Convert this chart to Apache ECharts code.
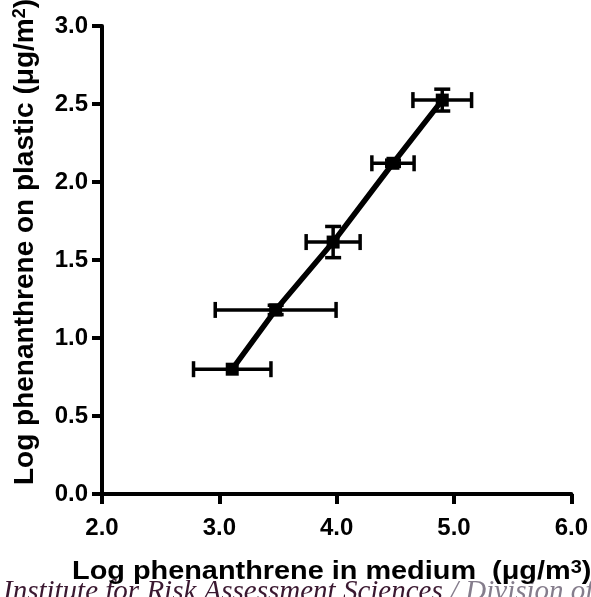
<!DOCTYPE html>
<html>
<head>
<meta charset="utf-8">
<script src="https://cdn.jsdelivr.net/npm/echarts@6/dist/echarts.min.js"></script>
<style>html,body{margin:0;padding:0;background:#fff;}#c{width:591px;height:597px;}</style>
</head>
<body>
<div id="c"></div>
<script>
// Data
var xVals = [3.11, 3.48, 3.97, 4.48, 4.90];
var yVals = [0.80, 1.18, 1.615, 2.12, 2.525];
var xErr  = [0.33, 0.515, 0.23, 0.18, 0.25];
var yErr  = [0.00, 0.03, 0.10, 0.02, 0.07];
var xTicks = [2.0, 3.0, 4.0, 5.0, 6.0];
var yTicks = [0.0, 0.5, 1.0, 1.5, 2.0, 2.5, 3.0];

var points = xVals.map(function (x, i) { return [x, yVals[i]]; });
var errData = xVals.map(function (x, i) { return [x, yVals[i], xErr[i], yErr[i]]; });

var chart = echarts.init(document.getElementById('c'), null, {renderer: 'canvas'});
var font = 'Liberation Sans, Arial, sans-serif';
var serif = 'Liberation Serif, serif';
var option = {
  animation: false,
  backgroundColor: '#fff',
  grid: {left: 102, right: 19, top: 26, bottom: 103, containLabel: false},
  xAxis: {
    type: 'value', min: xTicks[0], max: xTicks[xTicks.length - 1], interval: 1,
    axisLine: {show: true, lineStyle: {color: '#000', width: 4}},
    axisTick: {show: true, length: 10, lineStyle: {color: '#000', width: 4}},
    splitLine: {show: false},
    axisLabel: {margin: 22, color: '#000', fontFamily: font, fontWeight: 'bold', fontSize: 24,
      formatter: function (v) { return v.toFixed(1); }}
  },
  yAxis: {
    type: 'value', min: yTicks[0], max: yTicks[yTicks.length - 1], interval: 0.5,
    axisLine: {show: true, lineStyle: {color: '#000', width: 4}},
    axisTick: {show: true, length: 10, lineStyle: {color: '#000', width: 4}},
    splitLine: {show: false},
    axisLabel: {margin: 14, color: '#000', fontFamily: font, fontWeight: 'bold', fontSize: 24,
      formatter: function (v) { return v.toFixed(1); }}
  },
  graphic: [
    {type: 'text', x: 3, y: 607, z: 5,
      style: {text: '{a|Institute for Risk Assessment Sciences }{b|/ Division of}', textVerticalAlign: 'bottom',
        rich: {a: {fontFamily: serif, fontStyle: 'italic', fontSize: 29, fill: '#3a1830', color: '#3a1830'},
               b: {fontFamily: serif, fontStyle: 'italic', fontSize: 29, fill: '#857d8c', color: '#857d8c'}}}},
    {type: 'text', x: 72, y: 585, z: 10, scaleX: 1.11,
      style: {text: '{m|Log phenanthrene in medium  (μg/m}{s|3}{m|)}', textVerticalAlign: 'bottom',
        rich: {m: {fontFamily: font, fontWeight: 'bold', fontSize: 26, fill: '#000', color: '#000', lineHeight: 26, verticalAlign: 'bottom'},
               s: {fontFamily: font, fontWeight: 'bold', fontSize: 18, fill: '#000', color: '#000', lineHeight: 18, verticalAlign: 'top'}}}},
    {type: 'text', x: 11, y: 242, rotation: Math.PI / 2, z: 10,
      style: {text: '{m|Log phenanthrene on plastic (μg/m}{s|2}{m|)}', textAlign: 'center', textVerticalAlign: 'top',
        rich: {m: {fontFamily: font, fontWeight: 'bold', fontSize: 28, fill: '#000', color: '#000', lineHeight: 28, verticalAlign: 'bottom'},
               s: {fontFamily: font, fontWeight: 'bold', fontSize: 18, fill: '#000', color: '#000', lineHeight: 18, verticalAlign: 'top'}}}}
  ],
  series: [
    {
      type: 'custom', z: 2,
      data: errData,
      renderItem: function (params, api) {
        var x = api.value(0), y = api.value(1), ex = api.value(2), ey = api.value(3);
        var l = api.coord([x - ex, y]), r = api.coord([x + ex, y]);
        var t = api.coord([x, y + ey]), b = api.coord([x, y - ey]);
        var cap = 8;
        var st = {stroke: '#000', lineWidth: 3.5, fill: null};
        var ch = [
          {type: 'line', shape: {x1: l[0], y1: l[1], x2: r[0], y2: r[1]}, style: st},
          {type: 'line', shape: {x1: l[0], y1: l[1] - cap, x2: l[0], y2: l[1] + cap}, style: st},
          {type: 'line', shape: {x1: r[0], y1: r[1] - cap, x2: r[0], y2: r[1] + cap}, style: st}
        ];
        if (ey > 0) {
          ch.push({type: 'line', shape: {x1: t[0], y1: t[1], x2: b[0], y2: b[1]}, style: st});
          ch.push({type: 'line', shape: {x1: t[0] - cap, y1: t[1], x2: t[0] + cap, y2: t[1]}, style: st});
          ch.push({type: 'line', shape: {x1: b[0] - cap, y1: b[1], x2: b[0] + cap, y2: b[1]}, style: st});
        }
        return {type: 'group', children: ch};
      }
    },
    {
      type: 'line', z: 3,
      data: points,
      symbol: 'rect', symbolSize: 13,
      lineStyle: {color: '#000', width: 5.5},
      itemStyle: {color: '#000'}
    }
  ]
};
chart.setOption(option);
</script>
</body>
</html>
